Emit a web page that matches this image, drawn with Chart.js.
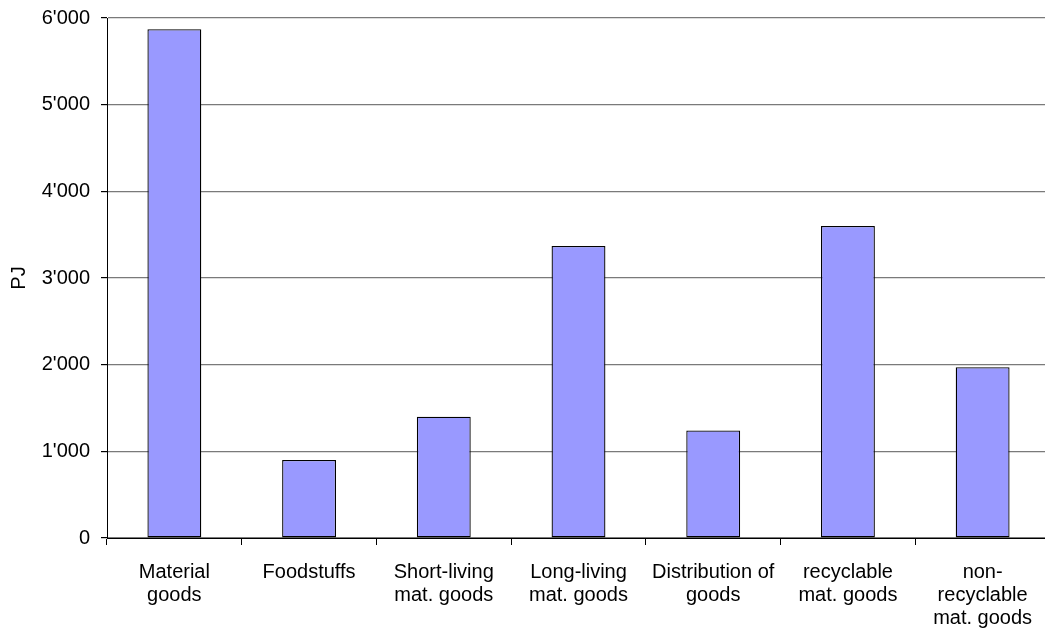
<!DOCTYPE html>
<html>
<head>
<meta charset="utf-8">
<script src="https://cdn.jsdelivr.net/npm/chart.js@4/dist/chart.umd.min.js"></script>
<style>
  html, body { margin: 0; padding: 0; background: #fff; overflow: hidden; }
  #wrap { width: 1050px; height: 632px; }
</style>
</head>
<body>
<div id="wrap"><canvas id="c" width="1050" height="632"></canvas></div>
<script>
// Energy demand per goods category (PJ)
const categories = [
  ['Material', 'goods'],
  ['Foodstuffs'],
  ['Short-living', 'mat. goods'],
  ['Long-living', 'mat. goods'],
  ['Distribution of', 'goods'],
  ['recyclable', 'mat. goods'],
  ['non-', 'recyclable', 'mat. goods']
];
const energyPJ = [5870, 900, 1400, 3370, 1240, 3600, 1970];
const yTicks = [0, 1000, 2000, 3000, 4000, 5000, 6000];

function apostropheThousands(v) {
  return String(v).replace(/\B(?=(\d{3})+(?!\d))/g, "'");
}

Chart.defaults.font.family = '"Liberation Sans", Arial, sans-serif';
Chart.defaults.font.size = 20;
Chart.defaults.color = '#000';

new Chart(document.getElementById('c'), {
  type: 'bar',
  data: {
    labels: categories,
    datasets: [{
      label: 'PJ',
      data: energyPJ,
      backgroundColor: '#9999FF',
      borderColor: '#000000',
      borderWidth: 1.3,
      borderSkipped: false,
      categoryPercentage: 0.4,
      barPercentage: 1.0
    }]
  },
  options: {
    responsive: false,
    animation: false,
    layout: { padding: { top: 18, right: 0, bottom: 0, left: 0 } },
    plugins: {
      legend: { display: false },
      tooltip: { enabled: false }
    },
    scales: {
      x: {
        offset: true,
        grid: {
          offset: true,
          drawOnChartArea: false,
          drawTicks: true,
          tickLength: 7,
          color: '#000'
        },
        border: { color: '#000', width: 1 },
        ticks: {
          padding: 16,
          maxRotation: 0,
          autoSkip: false,
          font: { size: 20, lineHeight: 1.15 }
        },
        afterFit: (axis) => { axis.height = 94; axis.paddingLeft = 0; axis.paddingRight = 0; }
      },
      y: {
        min: 0,
        max: 6000,
        afterBuildTicks: (axis) => { axis.ticks = yTicks.map(v => ({ value: v })); },
        grid: {
          color: '#7a7a7a',
          lineWidth: 1.2,
          drawTicks: true,
          tickLength: 6,
          tickColor: '#000'
        },
        border: { color: '#000', width: 1 },
        ticks: {
          padding: 11,
          callback: (v) => apostropheThousands(v),
          font: { size: 20 }
        },
        title: {
          display: true,
          text: 'PJ',
          font: { size: 20 },
          padding: { top: 7, bottom: 0 }
        },
        afterFit: (axis) => { axis.width = 107; axis.paddingTop = 0; axis.paddingBottom = 0; }
      }
    }
  }
});
</script>
</body>
</html>
